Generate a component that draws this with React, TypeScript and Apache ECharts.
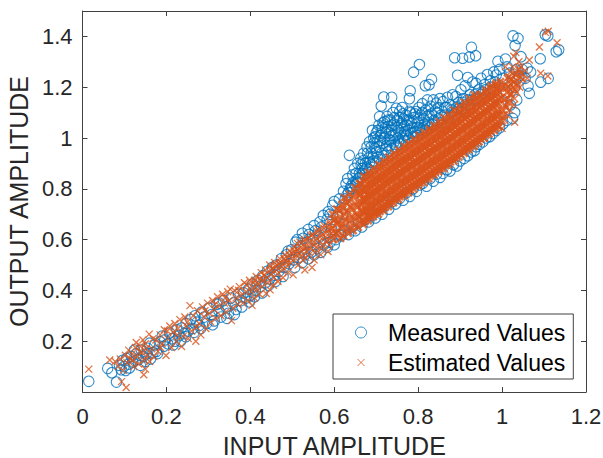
import React, { useEffect, useRef } from "react";
import * as echarts from "echarts";

const xTicks = [0, 0.2, 0.4, 0.6, 0.8, 1, 1.2];
const yTicks = [0.2, 0.4, 0.6, 0.8, 1, 1.2, 1.4];
const seriesNames = ["Measured Values", "Estimated Values"];

const measuredLow = [
[.015,.042],[.06,.093],[.07,.076],[.081,.039],[.088,.105],[.092,.088],[.096,.125],[.099,.1],[.105,.132],[.103,.085],[.11,.11],[.116,.14],[.12,.118],[.128,.15],[.134,.128],[.14,.165],[.145,.14],[.15,.12],[.155,.172],[.16,.192],[.162,.13],[.168,.155],[.172,.185],[.179,.152],[.185,.198],[.19,.22],[.196,.205],[.203,.19],[.208,.232],[.214,.21],[.22,.2],[.225,.245],[.23,.222],[.236,.252],[.242,.23],[.247,.27],[.252,.24],[.258,.285],[.263,.25],[.268,.3],[.273,.275],[.278,.262],[.284,.315],[.29,.295],[.296,.27],[.302,.33],[.308,.305],[.314,.28],[.32,.345],[.325,.32],[.33,.295],[.336,.36],[.342,.335],[.348,.31],[.354,.37],[.36,.35],[.366,.325],[.372,.385],[.378,.36],[.384,.39],[.39,.37],[.396,.405],[.4,.38],[.406,.425],[.412,.4],[.418,.44],[.424,.415],[.43,.458],[.436,.43],[.44,.475],[.446,.445],[.452,.49],[.458,.46],[.462,.5],[.468,.475],[.474,.525],[.48,.49],[.486,.54],[.492,.505],[.498,.56],[.503,.52],[.508,.59],[.512,.6],[.516,.53],[.52,.575],[.526,.605],[.53,.54],[.535,.59],[.54,.62],[.545,.55],[.55,.6],[.555,.635],[.56,.565],[.565,.61],[.57,.65],[.575,.58],[.58,.625],[.583,.68],[.586,.71],[.59,.59],[.594,.64],[.596,.735],[.6,.75],[.604,.6],[.608,.69],[.612,.76],[.616,.615],[.62,.7],
[.112,.095],[.124,.165],[.138,.105],[.152,.15],[.176,.16],[.194,.18],[.216,.185],[.234,.2],[.246,.218],[.266,.235],[.282,.25],[.31,.265],[.326,.35],[.344,.29],[.362,.305],[.38,.335],[.398,.355],[.41,.375],[.428,.39],[.444,.42],[.46,.435],[.478,.455],[.49,.555],[.506,.49],[.524,.51],[.538,.525],[.552,.54],[.568,.55],[.584,.57],[.6,.58],[.524,.625],[.538,.64],[.552,.655],[.566,.67],[.574,.695],[.59,.7]
];

const measuredHump = [
[.636,.932],[.622,.79],[.628,.82],[.632,.84],[.64,.81],[.644,.855],[.648,.88],[.652,.83],[.656,.9],[.66,.86],[.663,.92],[.667,.88],[.67,.94],[.674,.9],[.678,.965],[.681,.92],[.684,.985],[.688,.94],[.691,1.03],[.694,1],[.697,.96],[.7,1.02],[.703,.985],[.706,1.05],[.708,1.084],[.712,1.126],[.71,1.01],[.714,1.04],[.716,.98],[.718,1.161],[.72,1.065],[.723,1.02],[.726,1.085],[.728,1.045],[.731,.995],[.734,1.07],[.737,1.16],[.737,1.03],[.74,1.1],[.742,1.055],[.745,1.01],[.748,1.117],[.75,1.07],[.753,1.03],[.756,1.105],[.759,1.05],[.762,1.12],[.765,1.075],[.768,1.025],[.771,1.09],[.774,1.05],[.779,1.155],[.781,1.186],[.778,1.07],[.782,1.1],[.786,1.04],[.789,1.259],[.79,1.08],[.795,1.104],[.798,1.06],[.803,1.289],[.802,1.12],[.806,1.09],[.81,1.135],[.814,1.075],[.817,1.206],[.818,1.11],[.822,1.15],[.826,1.21],[.826,1.09],[.832,1.231],[.83,1.125],[.836,1.15],[.84,1.105],[.843,1.137],[.848,1.12],[.852,1.155],[.859,1.143],[.864,1.12],[.87,1.16],[.876,1.13],[.882,1.17],[.887,1.316],[.89,1.163],[.894,1.247],[.896,1.14],[.902,1.19],[.906,1.314],[.908,1.155],[.912,1.205],[.918,1.238],[.922,1.319],[.924,1.17],[.927,1.357],[.93,1.22],[.937,1.324],[.938,1.215],[.944,1.19],[.95,1.235],[.958,1.21],[.965,1.25],[.972,1.225],[.98,1.26],[.986,1.248],[.99,1.302],[.994,1.27],[1.002,1.235],[1.008,1.311],[1.012,1.28],[1.018,1.255],[1.026,1.402],[1.031,1.364],[1.038,1.392],[1.033,1.268],[1.04,1.245],[1.045,1.32],[1.048,1.27],[1.055,1.235],[1.06,1.275],[1.065,1.176],[1.068,1.26],[1.062,1.205],[1.091,1.312],[1.092,1.22],[1.103,1.406],[1.109,1.402],[1.11,1.235],[1.129,1.34],[1.135,1.347],
[.63,.775],[.638,.8],[.645,.825],[.652,.86],[.658,.84],[.664,.895],[.669,.91],[.674,.875],[.679,.94],[.684,.905],[.688,.965],[.692,.925],[.695,.98],[.698,1.005],[.701,.945],[.704,1.03],[.707,.965],[.71,.99],[.713,1.02],[.716,1.06],[.719,1],[.722,1.04],[.725,.97],[.728,1.07],[.731,1.02],[.734,.99],[.737,1.05],[.74,1.01],[.743,1.08],[.746,.975],[.749,1.04],[.752,1],[.755,1.08],[.758,1.02],[.761,1.06],[.764,1.095],[.767,1.045],[.77,1.01],[.773,1.07],[.776,1.03],[.779,1.105],[.784,1.06],[.788,1.02],[.792,1.095],[.797,1.04],[.801,1.075],[.805,1.03],[.81,1.1],[.815,1.055],[.82,1.085],[.825,1.06],[.832,1.095],[.838,1.07],[.845,1.1],[.855,1.09],[.868,1.12],[.88,1.11],[.892,1.12],[.905,1.14],[.918,1.15],[.935,1.17],[.955,1.18],
[.626,.76],[.634,.785],[.642,.8],[.65,.815],[.656,.825],[.662,.845],[.668,.86],[.673,.855],[.678,.885],[.683,.875],[.688,.895],[.693,.91],[.698,.9],[.703,.925],[.708,.915],[.713,.94],[.718,.93],[.723,.955],[.728,.945],[.733,.97],[.738,.96],[.743,.985],[.748,.965],[.753,.985],[.758,.975],[.763,1],[.768,.99],[.773,1.015],[.778,1],[.783,1.02],[.788,1.005],[.793,1.025],[.798,1.01],[.803,1.04],[.808,1.02],[.813,1.04],[.818,1.03],[.823,1.05],[.828,1.04],[.833,1.055],[.84,1.05],[.848,1.075],[.856,1.06],[.864,1.09],[.872,1.08],[.88,1.1],[.888,1.095],[.896,1.115],[.904,1.115],[.912,1.13],[.92,1.13],[.928,1.15],[.938,1.155],[.948,1.17],[.96,1.19],[.972,1.2],[.984,1.22]
];

const measuredLower = [
[.615,.62],[.625,.635],[.634,.62],[.642,.65],[.65,.635],[.658,.665],[.666,.65],[.674,.68],[.682,.67],[.69,.695],[.698,.685],[.706,.72],[.714,.7],[.722,.735],[.73,.72],[.738,.75],[.746,.74],[.756,.762],[.764,.755],[.772,.785],[.78,.77],[.788,.8],[.796,.79],[.804,.815],[.811,.822],[.82,.81],[.828,.84],[.836,.83],[.844,.858],[.852,.845],[.859,.861],[.868,.875],[.876,.87],[.884,.895],[.892,.89],[.9,.91],[.91,.92],[.918,.93],[.926,.945],[.934,.95],[.938,.966],[.946,.975],[.954,.985],[.962,1],[.97,1.005],[.978,1.018],[.986,1.03],[.994,1.04],[1.002,1.055],[1.012,1.07],[1.025,1.077],[1.03,1.1],[1.02,1.13],[1.035,1.15],[1.01,1.18],[1.03,1.2]
];

const estimatedLow = [
[.015,.09],[.104,.018],[.093,.041],[.146,.068],[.15,.09],[.065,.126],[.078,.12],[.085,.1],[.09,.13],[.097,.085],[.102,.145],[.106,.115],[.11,.165],[.114,.13],[.118,.15],[.122,.1],[.126,.175],[.13,.14],[.134,.11],[.138,.18],[.142,.155],[.147,.125],[.15,.19],[.155,.145],[.159,.228],[.16,.12],[.165,.17],[.17,.14],[.175,.205],[.18,.16],[.185,.225],[.19,.19],[.195,.245],[.199,.144],[.203,.21],[.208,.26],[.212,.175],[.216,.235],[.22,.27],[.224,.2],[.228,.25],[.232,.285],[.236,.179],[.24,.22],[.244,.295],[.248,.26],[.252,.21],[.256,.34],[.26,.24],[.264,.3],[.27,.2],[.274,.32],[.278,.27],[.282,.225],[.286,.335],[.29,.295],[.294,.25],[.298,.35],[.302,.31],[.306,.275],[.31,.36],[.314,.325],[.318,.29],[.322,.375],[.326,.34],[.33,.3],[.334,.385],[.338,.35],[.342,.315],[.346,.395],[.35,.36],[.355,.281],[.358,.33],[.362,.4],[.366,.37],[.37,.345],[.374,.415],[.378,.38],[.382,.35],[.386,.43],[.39,.395],[.394,.36],[.398,.44],[.404,.341],[.406,.41],[.41,.37],[.414,.455],[.418,.425],[.422,.385],[.426,.47],[.43,.44],[.438,.388],[.436,.48],[.44,.45],[.447,.402],[.446,.5],[.45,.465],[.455,.42],[.458,.51],[.462,.48],[.466,.435],[.47,.525],[.474,.495],[.478,.45],[.482,.54],[.486,.51],[.49,.47],[.494,.555],[.498,.525],[.502,.461],[.506,.57],[.51,.54],[.514,.5],[.518,.59],[.522,.555],[.53,.48],[.526,.52],[.53,.6],[.535,.57],[.547,.49],[.54,.54],[.545,.615],[.55,.58],[.555,.55],[.56,.63],[.565,.595],[.57,.565],[.575,.645],[.58,.61],[.585,.553],[.588,.58],[.59,.66],[.594,.625],
[.12,.125],[.128,.195],[.136,.16],[.144,.205],[.152,.17],[.168,.21],[.186,.175],[.202,.24],[.226,.225],[.25,.275],[.272,.255],[.292,.32],[.316,.345],[.34,.37],[.352,.405],[.372,.4],[.392,.42],[.41,.44],[.432,.46],[.452,.485],[.468,.505],[.484,.52],[.5,.545],[.512,.56],[.528,.575],[.542,.59],[.558,.605],[.572,.62],[.586,.64],[.532,.53],[.552,.52],[.568,.54],[.582,.59],
[.402,.395],[.408,.43],[.416,.405],[.424,.445],[.428,.415],[.434,.46],[.442,.43],[.448,.48],[.456,.45],[.46,.495],[.464,.465],[.472,.51],[.476,.48],[.48,.525],[.488,.495],[.492,.54],[.496,.51],[.504,.555],[.508,.525],[.512,.585],[.516,.545],[.52,.57],[.524,.535],[.528,.595],[.534,.555],[.538,.605],[.544,.565],[.548,.62],[.552,.59],[.558,.57],[.562,.64],[.566,.61],[.572,.58],[.576,.655],[.58,.625],[.584,.6],[.588,.67],[.592,.64],[.596,.615],[.6,.675]
];

const estimatedCore = [
[.598,.6],[.604,.625],[.595,.645],[.607,.66],[.601,.68],[.596,.7],[.606,.72],
[.615,.605],[.61,.63],[.617,.65],[.609,.672],[.614,.69],[.611,.715],[.618,.738],
[.622,.615],[.628,.64],[.62,.662],[.627,.68],[.625,.7],[.621,.722],[.629,.745],[.624,.765],
[.633,.625],[.639,.65],[.635,.672],[.64,.69],[.632,.712],[.638,.73],[.634,.752],[.637,.778],
[.645,.635],[.651,.66],[.647,.682],[.652,.7],[.644,.72],[.65,.742],[.646,.765],[.653,.785],[.649,.805],
[.657,.648],[.663,.668],[.658,.69],[.664,.712],[.656,.73],[.662,.752],[.659,.775],[.665,.795],[.66,.82],
[.669,.66],[.675,.682],[.67,.702],[.676,.722],[.668,.745],[.674,.765],[.671,.788],[.677,.808],[.672,.83],[.67,.85],
[.681,.675],[.687,.695],[.682,.715],[.688,.738],[.68,.758],[.686,.778],[.683,.8],[.689,.822],[.684,.845],[.682,.865],
[.693,.69],[.699,.71],[.694,.73],[.7,.752],[.692,.772],[.698,.795],[.695,.815],[.701,.838],[.696,.858],[.694,.88],
[.705,.7],[.711,.722],[.706,.745],[.712,.765],[.704,.788],[.71,.808],[.707,.83],[.713,.85],[.708,.875],[.706,.895],
[.717,.715],[.723,.738],[.718,.76],[.724,.78],[.716,.802],[.722,.825],[.719,.845],[.725,.868],[.72,.888],[.718,.91],
[.729,.73],[.735,.752],[.73,.775],[.736,.795],[.728,.818],[.734,.84],[.731,.86],[.737,.882],[.732,.905],[.73,.925],
[.741,.745],[.747,.768],[.742,.79],[.748,.81],[.74,.832],[.746,.855],[.743,.875],[.749,.898],[.744,.92],[.742,.94],
[.753,.758],[.759,.78],[.754,.802],[.76,.825],[.752,.845],[.758,.868],[.755,.89],[.761,.91],[.756,.932],[.754,.952],
[.765,.772],[.771,.795],[.766,.818],[.772,.838],[.764,.86],[.77,.882],[.767,.905],[.773,.925],[.768,.948],[.766,.968],
[.777,.785],[.783,.808],[.778,.83],[.784,.852],[.776,.875],[.782,.895],[.779,.918],[.785,.94],[.78,.96],[.778,.98],
[.789,.8],[.795,.822],[.79,.845],[.796,.868],[.788,.888],[.794,.91],[.791,.932],[.797,.952],[.792,.975],[.79,.995],
[.801,.812],[.807,.835],[.802,.858],[.808,.88],[.8,.902],[.806,.925],[.803,.945],[.809,.968],[.804,.988],[.802,1.01],
[.813,.825],[.819,.848],[.814,.87],[.82,.892],[.812,.915],[.818,.938],[.815,.96],[.821,.98],[.816,1.002],[.814,1.022],
[.825,.84],[.831,.862],[.826,.885],[.832,.908],[.824,.93],[.83,.95],[.827,.972],[.833,.995],[.828,1.015],[.826,1.035],
[.837,.855],[.843,.878],[.838,.9],[.844,.922],[.836,.945],[.842,.965],[.839,.988],[.845,1.01],[.84,1.03],[.838,1.05],
[.849,.868],[.855,.89],[.85,.912],[.856,.935],[.848,.958],[.854,.98],[.851,1],[.857,1.022],[.852,1.045],[.85,1.065],
[.861,.88],[.867,.902],[.862,.925],[.868,.948],[.86,.97],[.866,.99],[.863,1.012],[.869,1.035],[.864,1.058],[.862,1.08],
[.873,.895],[.879,.918],[.874,.94],[.88,.962],[.872,.985],[.878,1.005],[.875,1.028],[.881,1.05],[.876,1.07],[.874,1.092],
[.885,.91],[.891,.932],[.886,.955],[.892,.978],[.884,1],[.89,1.022],[.887,1.045],[.893,1.065],[.888,1.088],[.886,1.11],
[.897,.925],[.903,.948],[.898,.97],[.904,.992],[.896,1.015],[.902,1.038],[.899,1.058],[.905,1.08],[.9,1.102],[.898,1.125],
[.909,.94],[.915,.962],[.91,.985],[.916,1.008],[.908,1.03],[.914,1.052],[.911,1.075],[.917,1.095],[.912,1.118],[.91,1.14],
[.921,.955],[.927,.978],[.922,1],[.928,1.022],[.92,1.045],[.926,1.068],[.923,1.09],[.929,1.112],[.924,1.135],[.922,1.155],
[.933,.968],[.939,.992],[.934,1.015],[.94,1.038],[.932,1.06],[.938,1.082],[.935,1.105],[.941,1.128],[.936,1.15],[.934,1.17],
[.945,.985],[.951,1.008],[.946,1.03],[.952,1.052],[.944,1.075],[.95,1.098],[.947,1.12],[.953,1.142],[.948,1.165],
[.957,1],[.963,1.022],[.958,1.045],[.964,1.068],[.956,1.09],[.962,1.112],[.959,1.135],[.965,1.158],[.96,1.18],
[.969,1.015],[.975,1.038],[.97,1.06],[.976,1.082],[.968,1.105],[.974,1.128],[.971,1.15],[.977,1.172],[.972,1.195],
[.981,1.03],[.987,1.052],[.982,1.075],[.988,1.098],[.98,1.12],[.986,1.142],[.983,1.165],[.989,1.188],[.984,1.208],
[.993,1.045],[.999,1.068],[.994,1.09],[1,1.112],[.992,1.135],[.998,1.158],[.995,1.18],[1.001,1.2],[.996,1.222],
[1.004,1.09],[1.01,1.12],[1.006,1.15],[1.012,1.18],[1.008,1.21],[1.016,1.14],[1.02,1.17],[1.016,1.2],[1.022,1.23],[1.03,1.19],[1.028,1.22],[1.036,1.21],[1.034,1.25],[1.044,1.24],[1.04,1.27],[1.016,1.24]
];

const estimatedCoreExtra = [
[.66,.69],[.668,.712],[.664,.735],[.67,.755],[.662,.778],[.667,.8],[.663,.82],
[.673,.672],[.678,.694],[.675,.714],[.679,.736],[.673,.756],[.678,.778],[.675,.8],[.68,.82],[.676,.84],
[.685,.686],[.691,.708],[.686,.728],[.69,.75],[.684,.77],[.692,.79],[.687,.812],[.691,.834],[.686,.856],
[.697,.701],[.703,.72],[.698,.742],[.702,.764],[.697,.784],[.703,.806],[.699,.827],[.704,.85],[.699,.87],
[.709,.711],[.715,.733],[.71,.755],[.714,.777],[.709,.798],[.716,.82],[.711,.84],[.715,.862],[.71,.885],
[.721,.726],[.727,.748],[.722,.77],[.726,.792],[.721,.813],[.728,.835],[.723,.856],[.727,.878],[.722,.9],
[.733,.741],[.739,.763],[.734,.785],[.738,.807],[.733,.828],[.74,.85],[.735,.871],[.739,.893],[.734,.915],
[.745,.756],[.751,.778],[.746,.8],[.75,.822],[.745,.843],[.752,.865],[.747,.886],[.751,.908],[.746,.93],
[.757,.769],[.763,.791],[.758,.813],[.762,.835],[.757,.856],[.764,.878],[.759,.9],[.763,.921],[.758,.943],
[.769,.783],[.775,.805],[.77,.827],[.774,.849],[.769,.87],[.776,.892],[.771,.914],[.775,.935],[.77,.958],
[.781,.796],[.787,.818],[.782,.84],[.786,.862],[.781,.883],[.788,.905],[.783,.927],[.787,.948],[.782,.97],
[.793,.811],[.799,.833],[.794,.855],[.798,.877],[.793,.898],[.8,.92],[.795,.942],[.799,.963],[.794,.985],
[.805,.823],[.811,.845],[.806,.867],[.81,.889],[.805,.91],[.812,.932],[.807,.954],[.811,.975],[.806,.998],
[.817,.836],[.823,.858],[.818,.88],[.822,.902],[.817,.923],[.824,.945],[.819,.967],[.823,.99],[.818,1.01],
[.829,.851],[.835,.873],[.83,.895],[.834,.917],[.829,.938],[.836,.96],[.831,.982],[.835,1.004],[.83,1.025],
[.841,.866],[.847,.888],[.842,.91],[.846,.932],[.841,.953],[.848,.975],[.843,.997],[.847,1.02],[.842,1.04],
[.853,.879],[.859,.901],[.854,.923],[.858,.945],[.853,.966],[.86,.988],[.855,1.01],[.859,1.032],[.854,1.054],
[.865,.891],[.871,.913],[.866,.935],[.87,.957],[.865,.978],[.872,1],[.867,1.022],[.871,1.044],[.866,1.066],
[.877,.906],[.883,.928],[.878,.95],[.882,.972],[.877,.993],[.884,1.015],[.879,1.037],[.883,1.06],[.878,1.08],
[.889,.921],[.895,.943],[.89,.965],[.894,.987],[.889,1.008],[.896,1.03],[.891,1.052],[.895,1.075],[.89,1.096],
[.901,.936],[.907,.958],[.902,.98],[.906,1.002],[.901,1.023],[.908,1.045],[.903,1.067],[.907,1.09],[.902,1.11],
[.913,.951],[.919,.973],[.914,.995],[.918,1.017],[.913,1.038],[.92,1.06],[.915,1.082],[.919,1.105],[.914,1.126],
[.925,.966],[.931,.988],[.926,1.01],[.93,1.032],[.925,1.053],[.932,1.075],[.927,1.097],[.931,1.12],[.926,1.14],
[.937,.979],[.943,1.001],[.938,1.023],[.942,1.045],[.937,1.066],[.944,1.088],[.939,1.11],[.943,1.135],[.938,1.158],
[.949,.996],[.955,1.018],[.95,1.04],[.954,1.062],[.949,1.083],[.956,1.105],[.951,1.13],[.955,1.15],[.95,1.172],
[.961,1.011],[.967,1.033],[.962,1.055],[.966,1.077],[.961,1.1],[.968,1.122],[.963,1.145],[.967,1.168],[.962,1.19],
[.973,1.026],[.979,1.048],[.974,1.07],[.978,1.092],[.973,1.115],[.98,1.138],[.975,1.16],[.979,1.182],[.974,1.205],
[.985,1.041],[.991,1.063],[.986,1.085],[.99,1.108],[.985,1.13],[.992,1.152],[.987,1.175],[.991,1.198],[.986,1.215]
];

const estimatedHigh = [
[1.103,1.416],[1.11,1.42],[1.131,1.375],[1.089,1.358],[1.033,1.336],[1.028,1.322],[1.065,1.307],[1.008,1.281],[1.045,1.281],[1.092,1.255],[1.109,1.244],[1.03,1.062],[1.0,1.038],[.958,.999],[1.006,1.07],[1.012,1.09],[1.018,1.11],[1.008,1.13],[1.015,1.155],[1.022,1.175],[1.01,1.195],[1.02,1.215],[1.012,1.235],[1.028,1.13],[1.03,1.155],[1.035,1.18],[1.026,1.2],[1.036,1.225],[1.03,1.25],[1.042,1.2],[1.05,1.23],[1.045,1.255],[1.06,1.235],[1.055,1.265],[1.02,1.26],[1.025,1.28],[1.04,1.3]
];

const measured = [...measuredLow, ...measuredLower, ...measuredHump];
const estimatedOuter = [...estimatedLow, ...estimatedHigh];
const estimatedDense = [...estimatedCore, ...estimatedCoreExtra];

const BLUE = "#0072BD";
const ORANGE = "#D95319";
const INK = "#404040";
const LABEL = "#262626";
const FONT = "Liberation Sans";
const CROSS = "path://M0 0L10 10M10 0L0 10";
const CROSS_KEY = "path://M-2.85 -2.85M0 0L10 10M10 0L0 10M12.85 12.85";

export default function App() {
  const ref = useRef<HTMLDivElement>(null);
  useEffect(() => {
    const chart = echarts.init(ref.current!, undefined, { renderer: "svg" });
    const line = { show: true, onZero: false, lineStyle: { color: INK, width: 1 } };
    const tick = { show: true, inside: true, length: 5, lineStyle: { color: INK, width: 1 } };
    chart.setOption({
      animation: false,
      backgroundColor: "#fff",
      grid: { left: 82.5, right: 17, top: 11, bottom: 66, outerBoundsMode: "none" },
      xAxis: [
        {
          type: "value", min: 0, max: 1.2, interval: 0.2, name: "INPUT AMPLITUDE", nameLocation: "middle", nameGap: 41,
          nameTextStyle: { fontSize: 25, color: LABEL, fontFamily: FONT },
          axisLine: line, splitLine: { show: false }, axisTick: tick,
          axisLabel: { customValues: xTicks, fontSize: 22, color: LABEL, fontFamily: FONT, margin: 13, showMinLabel: true, showMaxLabel: true },
        },
        { type: "value", position: "top", min: 0, max: 1.2, interval: 0.2, axisLine: line, axisTick: tick, splitLine: { show: false }, axisLabel: { show: false } },
      ],
      yAxis: [
        {
          type: "value", min: 0, max: 1.5, interval: 0.2, name: "OUTPUT AMPLITUDE", nameLocation: "middle", nameGap: 45,
          nameTextStyle: { fontSize: 25, color: LABEL, fontFamily: FONT },
          axisLine: line, splitLine: { show: false }, axisTick: tick,
          axisLabel: { customValues: yTicks, fontSize: 22, color: LABEL, fontFamily: FONT, margin: 10 },
        },
        { type: "value", position: "right", min: 0, max: 1.5, interval: 0.2, axisLine: line, axisTick: tick, splitLine: { show: false }, axisLabel: { show: false } },
      ],
      legend: {
        left: 333, top: 314, orient: "vertical", itemWidth: 44, itemHeight: 11, itemGap: 7,
        padding: [7, 8, 5, 22], borderColor: INK, borderWidth: 1, backgroundColor: "#fff",
        textStyle: { fontSize: 23, color: "#000", fontFamily: FONT },
        data: [
          { name: seriesNames[0], icon: "circle", itemStyle: { color: "transparent", borderColor: BLUE, borderWidth: 1 } },
          { name: seriesNames[1], icon: CROSS_KEY, itemStyle: { color: "transparent", borderColor: ORANGE, borderWidth: 1 } },
        ],
      },
      series: [
        { name: seriesNames[0], type: "scatter", data: measured, symbol: "circle", symbolSize: 10.5, itemStyle: { color: "transparent", borderColor: BLUE, borderWidth: 1.1 } },
        { name: seriesNames[1], type: "scatter", data: estimatedOuter, symbol: CROSS, symbolSize: 7, itemStyle: { color: "transparent", borderColor: ORANGE, borderWidth: 1.3 } },
        { name: seriesNames[1], type: "scatter", data: estimatedDense, symbol: CROSS, symbolSize: 7, itemStyle: { color: "transparent", borderColor: ORANGE, borderWidth: 2.4 } },
      ],
    });
    return () => chart.dispose();
  }, []);
  return <div ref={ref} style={{ position: "fixed", left: 0, top: 0, width: 603, height: 458 }} />;
}
